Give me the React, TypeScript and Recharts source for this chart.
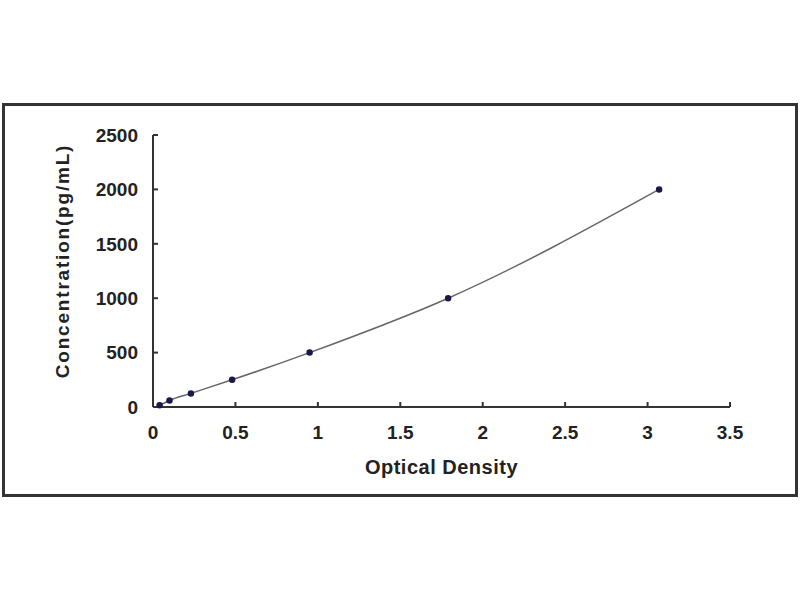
import React from "react";
import { LineChart, Line, XAxis, YAxis, Label } from "recharts";

const opticalDensity = [0.04, 0.1, 0.23, 0.48, 0.95, 1.79, 3.07];
const concentration = [15, 60, 125, 250, 500, 1000, 2000];
const xTicks = [0, 0.5, 1, 1.5, 2, 2.5, 3, 3.5];
const yTicks = [0, 500, 1000, 1500, 2000, 2500];

const data = opticalDensity.map((od, i) => ({ od, conc: concentration[i] }));

const font = "'Liberation Sans', Arial, sans-serif";
const tickStyle = { fontFamily: font, fontSize: 19, fontWeight: 700, fill: "#222" };

export default function App() {
  return (
    <div style={{ position: "absolute", left: 0, top: 0, width: 800, height: 600, background: "#fff" }}>
      <div
        style={{
          position: "absolute",
          left: 2,
          top: 103,
          width: 790,
          height: 388,
          border: "3px solid #333",
        }}
      />
      <div style={{ position: "absolute", left: 0, top: 0 }}>
        <LineChart
          width={800}
          height={600}
          data={data}
          margin={{ top: 135, right: 70, bottom: 133, left: 93 }}
        >
          <XAxis
            type="number"
            dataKey="od"
            domain={[0, 3.5]}
            ticks={xTicks}
            height={60}
            axisLine={{ stroke: "#333", strokeWidth: 2 }}
            tickLine={{ stroke: "#333", strokeWidth: 2 }}
            tickSize={-5}
            tickMargin={24}
            tick={tickStyle}
          >
            <Label
              value="Optical Density"
              position="center"
              dy={30}
              style={{ fontFamily: font, fontSize: 20, fontWeight: 700, fill: "#222", letterSpacing: 0.5 }}
            />
          </XAxis>
          <YAxis
            type="number"
            dataKey="conc"
            domain={[0, 2500]}
            ticks={yTicks}
            width={60}
            axisLine={{ stroke: "#333", strokeWidth: 2 }}
            tickLine={{ stroke: "#333", strokeWidth: 2 }}
            tickSize={-5}
            tickMargin={20}
            tick={tickStyle}
          >
            <Label
              value="Concentration(pg/mL)"
              angle={-90}
              position="center"
              dx={-61}
              dy={-10}
              style={{ fontFamily: font, fontSize: 19, fontWeight: 700, fill: "#222", letterSpacing: 1.8, textAnchor: "middle" }}
            />
          </YAxis>
          <Line
            type="monotone"
            dataKey="conc"
            stroke="#666"
            strokeWidth={1.5}
            dot={{ r: 2.5, fill: "#1a1a4a", stroke: "#1a1a4a" }}
            isAnimationActive={false}
          />
        </LineChart>
      </div>
    </div>
  );
}
